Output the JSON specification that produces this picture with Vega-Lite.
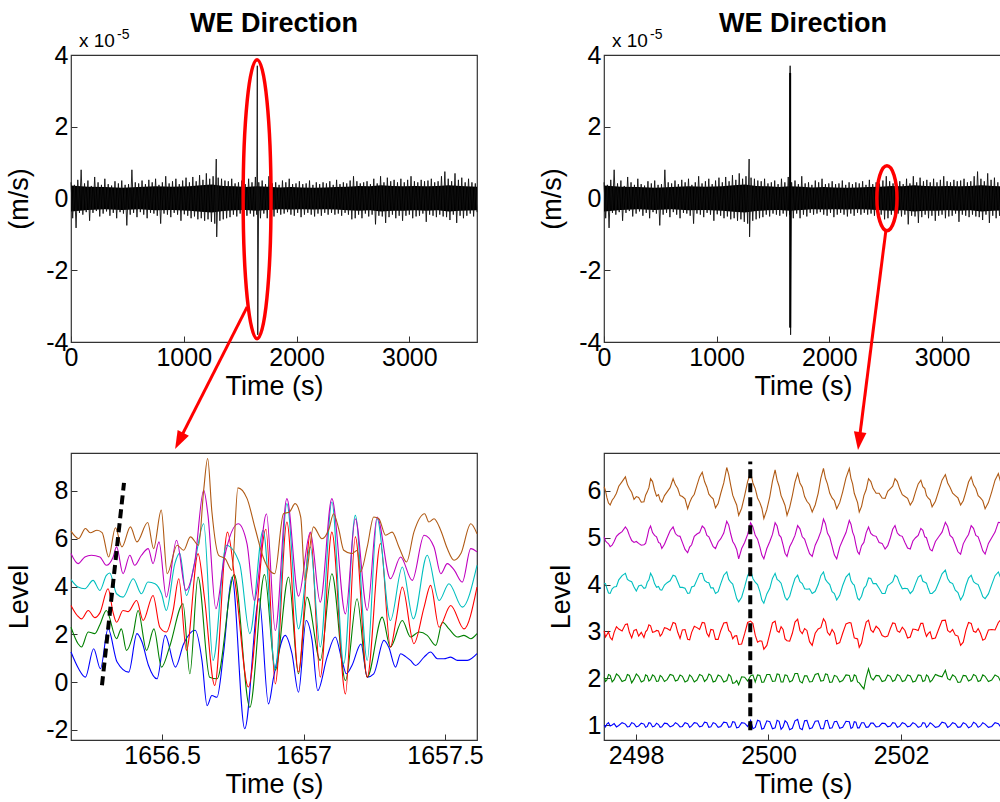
{
"$schema": "https://vega.github.io/schema/vega-lite/v6.json",
"background": "white",
"padding": {"left": 5, "top": 9, "right": 0, "bottom": 2},
"config": {
  "view": {"stroke": "#333", "strokeWidth": 1.2},
  "axis": {"domain": false, "grid": false, "tickSize": -6, "tickColor": "#333", "tickWidth": 1, "labelPadding": 9, "labelFlush": false, "labelFont": "Liberation Sans", "labelFontSize": 25, "labelColor": "#000", "titleFont": "Liberation Sans", "titleFontSize": 27, "titleFontWeight": "normal", "titleColor": "#000"},
  "axisX": {"titlePadding": 3},
  "axisY": {"titlePadding": 12},
  "title": {"font": "Liberation Sans", "fontSize": 27, "fontWeight": "bold", "color": "#000", "anchor": "middle", "offset": -10}
},
"datasets": {
  "core": [{"t":0,"v":-0.36,"v2":0.36},{"t":150,"v":-0.32,"v2":0.33},{"t":300,"v":-0.30,"v2":0.32},{"t":450,"v":-0.32,"v2":0.30},{"t":600,"v":-0.30,"v2":0.32},{"t":750,"v":-0.33,"v2":0.34},{"t":900,"v":-0.32,"v2":0.33},{"t":1050,"v":-0.34,"v2":0.34},{"t":1150,"v":-0.37,"v2":0.37},{"t":1250,"v":-0.39,"v2":0.39},{"t":1350,"v":-0.35,"v2":0.35},{"t":1450,"v":-0.33,"v2":0.34},{"t":1550,"v":-0.32,"v2":0.32},{"t":1650,"v":-0.34,"v2":0.34},{"t":1750,"v":-0.32,"v2":0.33},{"t":1850,"v":-0.30,"v2":0.31},{"t":1950,"v":-0.31,"v2":0.32},{"t":2050,"v":-0.30,"v2":0.31},{"t":2150,"v":-0.31,"v2":0.30},{"t":2250,"v":-0.30,"v2":0.31},{"t":2350,"v":-0.31,"v2":0.32},{"t":2450,"v":-0.33,"v2":0.33},{"t":2550,"v":-0.34,"v2":0.35},{"t":2650,"v":-0.33,"v2":0.34},{"t":2750,"v":-0.36,"v2":0.37},{"t":2850,"v":-0.34,"v2":0.35},{"t":2950,"v":-0.34,"v2":0.34},{"t":3050,"v":-0.33,"v2":0.35},{"t":3150,"v":-0.34,"v2":0.34},{"t":3250,"v":-0.33,"v2":0.35},{"t":3350,"v":-0.36,"v2":0.37},{"t":3450,"v":-0.34,"v2":0.35},{"t":3600,"v":-0.33,"v2":0.33}],
  "we": [{"t":0,"v":0.45},{"t":15,"v":-0.55},{"t":30,"v":0.38},{"t":45,"v":-0.82},{"t":60,"v":0.52},{"t":75,"v":-0.40},{"t":90,"v":0.80},{"t":105,"v":-0.45},{"t":120,"v":0.42},{"t":135,"v":-0.38},{"t":150,"v":0.50},{"t":165,"v":-0.62},{"t":180,"v":0.35},{"t":195,"v":-0.40},{"t":210,"v":0.60},{"t":225,"v":-0.35},{"t":240,"v":0.45},{"t":255,"v":-0.50},{"t":270,"v":0.38},{"t":285,"v":-0.42},{"t":300,"v":0.55},{"t":315,"v":-0.36},{"t":330,"v":0.40},{"t":345,"v":-0.48},{"t":360,"v":0.36},{"t":375,"v":-0.40},{"t":390,"v":0.48},{"t":405,"v":-0.55},{"t":420,"v":0.42},{"t":435,"v":-0.38},{"t":450,"v":0.50},{"t":465,"v":-0.42},{"t":480,"v":0.38},{"t":495,"v":-0.75},{"t":510,"v":0.40},{"t":525,"v":-0.45},{"t":540,"v":0.80},{"t":555,"v":-0.40},{"t":570,"v":0.45},{"t":585,"v":-0.52},{"t":600,"v":0.42},{"t":615,"v":-0.38},{"t":630,"v":0.50},{"t":645,"v":-0.45},{"t":660,"v":0.40},{"t":675,"v":-0.55},{"t":690,"v":0.52},{"t":705,"v":-0.40},{"t":720,"v":0.45},{"t":735,"v":-0.42},{"t":750,"v":0.55},{"t":765,"v":-0.48},{"t":780,"v":0.38},{"t":795,"v":-0.70},{"t":810,"v":0.45},{"t":825,"v":-0.42},{"t":840,"v":0.62},{"t":855,"v":-0.45},{"t":870,"v":0.42},{"t":885,"v":-0.52},{"t":900,"v":0.48},{"t":915,"v":-0.40},{"t":930,"v":0.55},{"t":945,"v":-0.45},{"t":960,"v":0.40},{"t":975,"v":-0.62},{"t":990,"v":0.50},{"t":1005,"v":-0.44},{"t":1020,"v":0.58},{"t":1035,"v":-0.48},{"t":1050,"v":0.45},{"t":1065,"v":-0.55},{"t":1080,"v":0.60},{"t":1095,"v":-0.50},{"t":1110,"v":0.48},{"t":1125,"v":-0.58},{"t":1140,"v":0.65},{"t":1155,"v":-0.55},{"t":1170,"v":0.52},{"t":1185,"v":-0.62},{"t":1200,"v":0.70},{"t":1215,"v":-0.58},{"t":1230,"v":0.55},{"t":1245,"v":-0.65},{"t":1260,"v":0.62},{"t":1275,"v":-0.70},{"t":1288,"v":1.10},{"t":1292,"v":-1.07},{"t":1305,"v":0.58},{"t":1320,"v":-0.62},{"t":1335,"v":0.55},{"t":1350,"v":-0.58},{"t":1365,"v":0.50},{"t":1380,"v":-0.55},{"t":1395,"v":0.48},{"t":1410,"v":-0.52},{"t":1425,"v":0.55},{"t":1440,"v":-0.45},{"t":1455,"v":0.42},{"t":1470,"v":-0.50},{"t":1485,"v":0.45},{"t":1500,"v":-0.42},{"t":1515,"v":0.50},{"t":1530,"v":-0.45},{"t":1545,"v":0.40},{"t":1560,"v":-0.48},{"t":1575,"v":0.55},{"t":1590,"v":-0.42},{"t":1605,"v":0.45},{"t":1620,"v":-0.50},{"t":1635,"v":0.60},{"t":1647,"v":-0.45},{"t":1652,"v":3.70},{"t":1656,"v":-3.80},{"t":1665,"v":0.45},{"t":1680,"v":-0.55},{"t":1695,"v":0.50},{"t":1710,"v":-0.42},{"t":1725,"v":0.40},{"t":1740,"v":-0.55},{"t":1755,"v":0.62},{"t":1770,"v":-0.45},{"t":1785,"v":0.42},{"t":1800,"v":-0.50},{"t":1815,"v":0.45},{"t":1830,"v":-0.40},{"t":1845,"v":0.38},{"t":1860,"v":-0.45},{"t":1875,"v":0.50},{"t":1890,"v":-0.42},{"t":1905,"v":0.45},{"t":1920,"v":-0.38},{"t":1935,"v":0.55},{"t":1950,"v":-0.45},{"t":1965,"v":0.40},{"t":1980,"v":-0.48},{"t":1995,"v":0.42},{"t":2010,"v":-0.40},{"t":2025,"v":0.48},{"t":2040,"v":-0.52},{"t":2055,"v":0.40},{"t":2070,"v":-0.45},{"t":2085,"v":0.42},{"t":2100,"v":-0.40},{"t":2115,"v":0.50},{"t":2130,"v":-0.45},{"t":2145,"v":0.38},{"t":2160,"v":-0.50},{"t":2175,"v":0.45},{"t":2190,"v":-0.42},{"t":2205,"v":0.40},{"t":2220,"v":-0.48},{"t":2235,"v":0.45},{"t":2250,"v":-0.40},{"t":2265,"v":0.42},{"t":2280,"v":-0.45},{"t":2295,"v":0.48},{"t":2310,"v":-0.40},{"t":2325,"v":0.38},{"t":2340,"v":-0.45},{"t":2355,"v":0.52},{"t":2370,"v":-0.42},{"t":2385,"v":0.40},{"t":2400,"v":-0.48},{"t":2415,"v":0.45},{"t":2430,"v":-0.40},{"t":2445,"v":0.42},{"t":2460,"v":-0.45},{"t":2475,"v":0.50},{"t":2490,"v":-0.58},{"t":2505,"v":0.62},{"t":2520,"v":-0.55},{"t":2535,"v":0.48},{"t":2550,"v":-0.45},{"t":2565,"v":0.42},{"t":2580,"v":-0.55},{"t":2595,"v":0.45},{"t":2610,"v":-0.42},{"t":2625,"v":0.48},{"t":2640,"v":-0.50},{"t":2655,"v":0.40},{"t":2670,"v":-0.45},{"t":2685,"v":0.55},{"t":2700,"v":-0.72},{"t":2715,"v":0.42},{"t":2730,"v":-0.48},{"t":2745,"v":0.62},{"t":2760,"v":-0.50},{"t":2775,"v":0.45},{"t":2790,"v":-0.68},{"t":2805,"v":0.58},{"t":2820,"v":-0.52},{"t":2835,"v":0.48},{"t":2850,"v":-0.45},{"t":2865,"v":0.52},{"t":2880,"v":-0.55},{"t":2895,"v":0.45},{"t":2910,"v":-0.48},{"t":2925,"v":0.55},{"t":2940,"v":-0.62},{"t":2955,"v":0.45},{"t":2970,"v":-0.48},{"t":2985,"v":0.52},{"t":3000,"v":-0.45},{"t":3015,"v":0.62},{"t":3030,"v":-0.55},{"t":3045,"v":0.48},{"t":3060,"v":-0.50},{"t":3075,"v":0.45},{"t":3090,"v":-0.48},{"t":3105,"v":0.52},{"t":3120,"v":-0.42},{"t":3135,"v":0.48},{"t":3150,"v":-0.65},{"t":3165,"v":0.50},{"t":3180,"v":-0.45},{"t":3195,"v":0.55},{"t":3210,"v":-0.48},{"t":3225,"v":0.45},{"t":3240,"v":-0.52},{"t":3255,"v":0.48},{"t":3270,"v":-0.45},{"t":3285,"v":0.62},{"t":3300,"v":-0.50},{"t":3315,"v":0.75},{"t":3330,"v":-0.52},{"t":3345,"v":0.55},{"t":3360,"v":-0.60},{"t":3375,"v":0.48},{"t":3390,"v":-0.45},{"t":3405,"v":0.70},{"t":3420,"v":-0.68},{"t":3435,"v":0.52},{"t":3450,"v":-0.48},{"t":3465,"v":0.58},{"t":3480,"v":-0.55},{"t":3495,"v":0.45},{"t":3510,"v":-0.48},{"t":3525,"v":0.55},{"t":3540,"v":-0.42},{"t":3555,"v":0.45},{"t":3570,"v":-0.50},{"t":3585,"v":0.42},{"t":3600,"v":-0.38}],
  "z1": [
{"s":"b","t":1656.178,"v":1.26},{"s":"b","t":1656.205,"v":0.56},{"s":"b","t":1656.229,"v":0.21},{"s":"b","t":1656.258,"v":1.40},{"s":"b","t":1656.282,"v":0.56},{"s":"b","t":1656.309,"v":2.24},{"s":"b","t":1656.341,"v":0.84},{"s":"b","t":1656.382,"v":0.42},{"s":"b","t":1656.411,"v":2.03},{"s":"b","t":1656.429,"v":1.68},{"s":"b","t":1656.452,"v":0.70},{"s":"b","t":1656.482,"v":0.14},{"s":"b","t":1656.511,"v":1.96},{"s":"b","t":1656.547,"v":0.63},{"s":"b","t":1656.576,"v":1.60},{"s":"b","t":1656.617,"v":2.17},{"s":"b","t":1656.641,"v":0.90},{"s":"b","t":1656.659,"v":-0.98},{"s":"b","t":1656.676,"v":-0.56},{"s":"b","t":1656.694,"v":-0.63},{"s":"b","t":1656.717,"v":1.20},{"s":"b","t":1656.747,"v":4.40},{"s":"b","t":1656.792,"v":-1.95},{"s":"b","t":1656.843,"v":3.50},{"s":"b","t":1656.876,"v":-0.91},{"s":"b","t":1656.894,"v":0.20},{"s":"b","t":1656.935,"v":1.96},{"s":"b","t":1656.959,"v":1.19},{"s":"b","t":1656.982,"v":-0.42},{"s":"b","t":1657.009,"v":2.58},{"s":"b","t":1657.030,"v":1.75},{"s":"b","t":1657.050,"v":-0.35},{"s":"b","t":1657.083,"v":1.05},{"s":"b","t":1657.112,"v":1.89},{"s":"b","t":1657.136,"v":0.91},{"s":"b","t":1657.151,"v":0.35},{"s":"b","t":1657.171,"v":0.70},{"s":"b","t":1657.203,"v":1.60},{"s":"b","t":1657.225,"v":0.21},{"s":"b","t":1657.248,"v":0.35},{"s":"b","t":1657.284,"v":1.75},{"s":"b","t":1657.301,"v":1.47},{"s":"b","t":1657.325,"v":0.63},{"s":"b","t":1657.343,"v":1.19},{"s":"b","t":1657.361,"v":1.07},{"s":"b","t":1657.378,"v":0.91},{"s":"b","t":1657.396,"v":0.70},{"s":"b","t":1657.426,"v":1.05},{"s":"b","t":1657.449,"v":1.26},{"s":"b","t":1657.473,"v":0.98},{"s":"b","t":1657.496,"v":0.98},{"s":"b","t":1657.520,"v":1.05},{"s":"b","t":1657.544,"v":0.91},{"s":"b","t":1657.579,"v":0.91},{"s":"b","t":1657.613,"v":1.19},
{"s":"g","t":1656.178,"v":2.30},{"s":"g","t":1656.203,"v":1.61},{"s":"g","t":1656.215,"v":1.47},{"s":"g","t":1656.239,"v":2.10},{"s":"g","t":1656.262,"v":2.03},{"s":"g","t":1656.280,"v":2.40},{"s":"g","t":1656.303,"v":3.00},{"s":"g","t":1656.339,"v":1.82},{"s":"g","t":1656.356,"v":2.23},{"s":"g","t":1656.374,"v":1.33},{"s":"g","t":1656.398,"v":2.03},{"s":"g","t":1656.415,"v":3.00},{"s":"g","t":1656.445,"v":1.33},{"s":"g","t":1656.471,"v":2.23},{"s":"g","t":1656.498,"v":0.63},{"s":"g","t":1656.527,"v":1.50},{"s":"g","t":1656.574,"v":3.28},{"s":"g","t":1656.598,"v":0.35},{"s":"g","t":1656.627,"v":4.40},{"s":"g","t":1656.668,"v":0.21},{"s":"g","t":1656.694,"v":0.14},{"s":"g","t":1656.755,"v":4.50},{"s":"g","t":1656.810,"v":-1.05},{"s":"g","t":1656.862,"v":4.50},{"s":"g","t":1656.900,"v":0.50},{"s":"g","t":1656.947,"v":4.40},{"s":"g","t":1656.982,"v":0.35},{"s":"g","t":1657.012,"v":3.56},{"s":"g","t":1657.059,"v":0.91},{"s":"g","t":1657.100,"v":4.54},{"s":"g","t":1657.148,"v":0.07},{"s":"g","t":1657.189,"v":3.49},{"s":"g","t":1657.225,"v":0.21},{"s":"g","t":1657.278,"v":2.72},{"s":"g","t":1657.307,"v":1.47},{"s":"g","t":1657.349,"v":2.58},{"s":"g","t":1657.378,"v":1.89},{"s":"g","t":1657.408,"v":2.10},{"s":"g","t":1657.437,"v":1.96},{"s":"g","t":1657.467,"v":1.54},{"s":"g","t":1657.491,"v":2.51},{"s":"g","t":1657.514,"v":2.23},{"s":"g","t":1657.544,"v":1.89},{"s":"g","t":1657.567,"v":1.96},{"s":"g","t":1657.591,"v":1.82},{"s":"g","t":1657.613,"v":2.03},
{"s":"r","t":1656.178,"v":3.21},{"s":"r","t":1656.200,"v":2.79},{"s":"r","t":1656.215,"v":2.65},{"s":"r","t":1656.239,"v":3.00},{"s":"r","t":1656.262,"v":2.70},{"s":"r","t":1656.280,"v":2.90},{"s":"r","t":1656.309,"v":3.91},{"s":"r","t":1656.327,"v":2.90},{"s":"r","t":1656.339,"v":2.51},{"s":"r","t":1656.362,"v":3.00},{"s":"r","t":1656.380,"v":2.95},{"s":"r","t":1656.410,"v":3.42},{"s":"r","t":1656.433,"v":2.58},{"s":"r","t":1656.468,"v":3.63},{"s":"r","t":1656.492,"v":2.30},{"s":"r","t":1656.515,"v":2.10},{"s":"r","t":1656.539,"v":3.00},{"s":"r","t":1656.559,"v":4.33},{"s":"r","t":1656.586,"v":1.33},{"s":"r","t":1656.627,"v":5.38},{"s":"r","t":1656.650,"v":3.50},{"s":"r","t":1656.686,"v":-0.14},{"s":"r","t":1656.731,"v":6.28},{"s":"r","t":1656.760,"v":4.00},{"s":"r","t":1656.805,"v":-0.20},{"s":"r","t":1656.867,"v":6.40},{"s":"r","t":1656.900,"v":-0.07},{"s":"r","t":1656.941,"v":6.70},{"s":"r","t":1656.982,"v":0.42},{"s":"r","t":1657.024,"v":6.22},{"s":"r","t":1657.059,"v":0.21},{"s":"r","t":1657.100,"v":6.28},{"s":"r","t":1657.148,"v":-0.49},{"s":"r","t":1657.183,"v":6.08},{"s":"r","t":1657.225,"v":0.21},{"s":"r","t":1657.272,"v":5.80},{"s":"r","t":1657.307,"v":1.47},{"s":"r","t":1657.327,"v":2.60},{"s":"r","t":1657.349,"v":3.98},{"s":"r","t":1657.390,"v":1.61},{"s":"r","t":1657.426,"v":3.14},{"s":"r","t":1657.449,"v":4.05},{"s":"r","t":1657.479,"v":2.30},{"s":"r","t":1657.520,"v":3.21},{"s":"r","t":1657.567,"v":2.23},{"s":"r","t":1657.613,"v":3.98},
{"s":"c","t":1656.178,"v":4.29},{"s":"c","t":1656.203,"v":3.98},{"s":"c","t":1656.227,"v":3.91},{"s":"c","t":1656.256,"v":4.26},{"s":"c","t":1656.280,"v":3.84},{"s":"c","t":1656.303,"v":4.47},{"s":"c","t":1656.315,"v":4.57},{"s":"c","t":1656.339,"v":3.70},{"s":"c","t":1656.362,"v":3.56},{"s":"c","t":1656.398,"v":4.33},{"s":"c","t":1656.427,"v":3.70},{"s":"c","t":1656.450,"v":4.19},{"s":"c","t":1656.475,"v":4.12},{"s":"c","t":1656.498,"v":3.70},{"s":"c","t":1656.515,"v":3.00},{"s":"c","t":1656.545,"v":4.96},{"s":"c","t":1656.562,"v":5.40},{"s":"c","t":1656.586,"v":3.63},{"s":"c","t":1656.615,"v":5.00},{"s":"c","t":1656.647,"v":6.63},{"s":"c","t":1656.680,"v":0.91},{"s":"c","t":1656.727,"v":5.73},{"s":"c","t":1656.774,"v":4.96},{"s":"c","t":1656.810,"v":2.03},{"s":"c","t":1656.857,"v":6.35},{"s":"c","t":1656.900,"v":0.56},{"s":"c","t":1656.941,"v":7.47},{"s":"c","t":1656.982,"v":2.23},{"s":"c","t":1657.024,"v":5.66},{"s":"c","t":1657.059,"v":1.47},{"s":"c","t":1657.100,"v":7.54},{"s":"c","t":1657.142,"v":0.77},{"s":"c","t":1657.183,"v":6.98},{"s":"c","t":1657.225,"v":0.91},{"s":"c","t":1657.260,"v":6.84},{"s":"c","t":1657.307,"v":2.58},{"s":"c","t":1657.349,"v":4.82},{"s":"c","t":1657.388,"v":2.65},{"s":"c","t":1657.437,"v":5.31},{"s":"c","t":1657.479,"v":3.42},{"s":"c","t":1657.514,"v":4.12},{"s":"c","t":1657.561,"v":3.14},{"s":"c","t":1657.613,"v":4.89},
{"s":"m","t":1656.178,"v":5.38},{"s":"m","t":1656.203,"v":4.96},{"s":"m","t":1656.227,"v":5.24},{"s":"m","t":1656.250,"v":5.31},{"s":"m","t":1656.280,"v":5.24},{"s":"m","t":1656.303,"v":4.89},{"s":"m","t":1656.327,"v":5.24},{"s":"m","t":1656.339,"v":5.66},{"s":"m","t":1656.362,"v":4.54},{"s":"m","t":1656.386,"v":5.31},{"s":"m","t":1656.403,"v":4.89},{"s":"m","t":1656.427,"v":5.31},{"s":"m","t":1656.451,"v":5.59},{"s":"m","t":1656.468,"v":4.96},{"s":"m","t":1656.489,"v":5.87},{"s":"m","t":1656.515,"v":3.56},{"s":"m","t":1656.551,"v":5.94},{"s":"m","t":1656.584,"v":3.84},{"s":"m","t":1656.615,"v":5.00},{"s":"m","t":1656.647,"v":8.03},{"s":"m","t":1656.662,"v":7.00},{"s":"m","t":1656.690,"v":3.07},{"s":"m","t":1656.720,"v":5.20},{"s":"m","t":1656.769,"v":6.63},{"s":"m","t":1656.800,"v":5.80},{"s":"m","t":1656.826,"v":3.42},{"s":"m","t":1656.869,"v":7.05},{"s":"m","t":1656.900,"v":2.16},{"s":"m","t":1656.941,"v":7.68},{"s":"m","t":1656.982,"v":3.60},{"s":"m","t":1657.024,"v":6.28},{"s":"m","t":1657.059,"v":3.35},{"s":"m","t":1657.100,"v":7.68},{"s":"m","t":1657.148,"v":2.86},{"s":"m","t":1657.183,"v":6.84},{"s":"m","t":1657.225,"v":3.00},{"s":"m","t":1657.260,"v":6.91},{"s":"m","t":1657.307,"v":4.33},{"s":"m","t":1657.343,"v":5.24},{"s":"m","t":1657.384,"v":4.26},{"s":"m","t":1657.426,"v":6.15},{"s":"m","t":1657.461,"v":5.66},{"s":"m","t":1657.485,"v":4.54},{"s":"m","t":1657.508,"v":4.96},{"s":"m","t":1657.532,"v":4.70},{"s":"m","t":1657.561,"v":4.19},{"s":"m","t":1657.591,"v":5.59},{"s":"m","t":1657.613,"v":5.45},
{"s":"o","t":1656.178,"v":6.32},{"s":"o","t":1656.205,"v":6.01},{"s":"o","t":1656.229,"v":6.43},{"s":"o","t":1656.246,"v":6.25},{"s":"o","t":1656.270,"v":6.36},{"s":"o","t":1656.288,"v":6.26},{"s":"o","t":1656.311,"v":5.24},{"s":"o","t":1656.335,"v":6.46},{"s":"o","t":1656.358,"v":5.66},{"s":"o","t":1656.388,"v":6.50},{"s":"o","t":1656.411,"v":5.87},{"s":"o","t":1656.449,"v":6.68},{"s":"o","t":1656.470,"v":5.59},{"s":"o","t":1656.497,"v":7.20},{"s":"o","t":1656.518,"v":4.54},{"s":"o","t":1656.553,"v":5.73},{"s":"o","t":1656.576,"v":5.52},{"s":"o","t":1656.600,"v":6.08},{"s":"o","t":1656.629,"v":5.73},{"s":"o","t":1656.647,"v":8.04},{"s":"o","t":1656.661,"v":9.36},{"s":"o","t":1656.676,"v":7.13},{"s":"o","t":1656.700,"v":5.31},{"s":"o","t":1656.723,"v":5.17},{"s":"o","t":1656.747,"v":4.68},{"s":"o","t":1656.768,"v":8.13},{"s":"o","t":1656.800,"v":7.69},{"s":"o","t":1656.829,"v":6.43},{"s":"o","t":1656.857,"v":5.24},{"s":"o","t":1656.898,"v":4.54},{"s":"o","t":1656.929,"v":7.05},{"s":"o","t":1656.950,"v":7.12},{"s":"o","t":1656.970,"v":7.47},{"s":"o","t":1656.990,"v":6.91},{"s":"o","t":1657.005,"v":4.26},{"s":"o","t":1657.035,"v":6.50},{"s":"o","t":1657.065,"v":6.00},{"s":"o","t":1657.090,"v":6.42},{"s":"o","t":1657.106,"v":7.05},{"s":"o","t":1657.124,"v":6.42},{"s":"o","t":1657.142,"v":5.52},{"s":"o","t":1657.171,"v":5.38},{"s":"o","t":1657.190,"v":5.52},{"s":"o","t":1657.201,"v":4.61},{"s":"o","t":1657.225,"v":5.66},{"s":"o","t":1657.248,"v":6.91},{"s":"o","t":1657.266,"v":6.84},{"s":"o","t":1657.290,"v":6.15},{"s":"o","t":1657.313,"v":6.28},{"s":"o","t":1657.337,"v":5.66},{"s":"o","t":1657.364,"v":5.03},{"s":"o","t":1657.390,"v":6.28},{"s":"o","t":1657.428,"v":7.05},{"s":"o","t":1657.443,"v":6.70},{"s":"o","t":1657.461,"v":6.84},{"s":"o","t":1657.485,"v":6.35},{"s":"o","t":1657.508,"v":5.59},{"s":"o","t":1657.532,"v":5.10},{"s":"o","t":1657.556,"v":5.38},{"s":"o","t":1657.591,"v":6.63},{"s":"o","t":1657.613,"v":6.21}
  ],
  "z2": [
{"t":2497.52,"o":6.09,"m":5.02,"c":4.03,"r":3.01,"g":2.02,"b":1.00},
{"t":2497.54,"o":6.00,"m":4.93,"c":4.02,"r":2.88,"g":1.93,"b":0.96},
{"t":2497.56,"o":5.86,"m":4.90,"c":3.92,"r":2.93,"g":1.96,"b":1.02},
{"t":2497.585,"o":5.74,"m":4.87,"c":3.82,"r":2.99,"g":2.08,"b":1.05},
{"t":2497.61,"o":5.70,"m":4.81,"c":3.81,"r":2.87,"g":2.06,"b":0.98},
{"t":2497.64,"o":5.80,"m":4.84,"c":3.91,"r":2.82,"g":1.92,"b":1.00},
{"t":2497.67,"o":5.86,"m":4.92,"c":3.95,"r":2.98,"g":1.97,"b":1.03},
{"t":2497.705,"o":5.95,"m":5.03,"c":3.96,"r":3.10,"g":2.09,"b":0.96},
{"t":2497.74,"o":6.10,"m":5.08,"c":4.10,"r":3.05,"g":2.05,"b":0.99},
{"t":2497.79,"o":6.20,"m":5.13,"c":4.19,"r":3.01,"g":1.93,"b":1.05},
{"t":2497.84,"o":6.30,"m":5.23,"c":4.24,"r":3.15,"g":1.96,"b":1.02},
{"t":2497.87,"o":6.14,"m":5.17,"c":4.11,"r":3.16,"g":2.08,"b":0.96},
{"t":2497.90,"o":6.05,"m":5.05,"c":4.08,"r":2.98,"g":2.06,"b":0.97},
{"t":2497.935,"o":5.97,"m":4.94,"c":4.06,"r":2.86,"g":1.90,"b":1.05},
{"t":2497.97,"o":5.82,"m":4.90,"c":3.95,"r":3.02,"g":1.98,"b":1.03},
{"t":2498.005,"o":5.88,"m":4.92,"c":3.86,"r":3.04,"g":2.09,"b":0.96},
{"t":2498.04,"o":5.86,"m":4.88,"c":3.97,"r":2.90,"g":2.04,"b":0.98},
{"t":2498.08,"o":5.76,"m":4.84,"c":3.99,"r":2.98,"g":1.92,"b":1.04},
{"t":2498.12,"o":5.77,"m":4.85,"c":3.92,"r":2.87,"g":1.95,"b":1.02},
{"t":2498.145,"o":5.91,"m":4.88,"c":3.93,"r":2.99,"g":2.07,"b":0.95},
{"t":2498.17,"o":5.98,"m":5.02,"c":4.05,"r":3.03,"g":2.05,"b":0.97},
{"t":2498.195,"o":6.07,"m":5.18,"c":4.10,"r":3.14,"g":1.94,"b":1.05},
{"t":2498.22,"o":6.26,"m":5.25,"c":4.24,"r":3.12,"g":1.97,"b":1.04},
{"t":2498.25,"o":6.20,"m":5.11,"c":4.16,"r":2.98,"g":2.07,"b":0.96},
{"t":2498.28,"o":6.02,"m":5.05,"c":4.02,"r":2.99,"g":2.04,"b":0.98},
{"t":2498.31,"o":5.89,"m":5.02,"c":3.94,"r":3.02,"g":1.93,"b":1.04},
{"t":2498.34,"o":5.92,"m":4.90,"c":3.96,"r":3.01,"g":1.94,"b":1.01},
{"t":2498.365,"o":5.80,"m":4.88,"c":3.89,"r":2.90,"g":2.06,"b":0.95},
{"t":2498.39,"o":5.76,"m":4.77,"c":3.88,"r":2.94,"g":2.03,"b":0.96},
{"t":2498.43,"o":5.90,"m":4.86,"c":3.99,"r":3.08,"g":1.93,"b":1.04},
{"t":2498.47,"o":5.98,"m":5.00,"c":4.04,"r":3.06,"g":1.97,"b":1.03},
{"t":2498.515,"o":6.07,"m":5.15,"c":4.08,"r":3.02,"g":2.08,"b":0.96},
{"t":2498.56,"o":6.26,"m":5.23,"c":4.20,"r":3.19,"g":2.06,"b":0.99},
{"t":2498.595,"o":6.13,"m":5.09,"c":4.18,"r":3.17,"g":1.94,"b":1.05},
{"t":2498.63,"o":6.05,"m":5.04,"c":4.06,"r":2.98,"g":1.96,"b":1.02},
{"t":2498.665,"o":5.90,"m":5.03,"c":3.94,"r":2.85,"g":2.07,"b":0.96},
{"t":2498.70,"o":5.88,"m":4.90,"c":3.94,"r":3.03,"g":2.04,"b":0.97},
{"t":2498.74,"o":5.83,"m":4.75,"c":3.92,"r":3.04,"g":1.92,"b":1.05},
{"t":2498.78,"o":5.62,"m":4.68,"c":3.81,"r":2.83,"g":1.95,"b":1.03},
{"t":2498.81,"o":5.75,"m":4.80,"c":3.82,"r":2.82,"g":2.07,"b":0.95},
{"t":2498.84,"o":5.85,"m":4.85,"c":3.95,"r":2.98,"g":2.03,"b":0.98},
{"t":2498.88,"o":5.93,"m":5.03,"c":3.97,"r":3.11,"g":1.92,"b":1.05},
{"t":2498.92,"o":6.12,"m":5.08,"c":4.10,"r":3.08,"g":1.96,"b":1.04},
{"t":2498.96,"o":6.30,"m":5.11,"c":4.23,"r":3.04,"g":2.08,"b":0.96},
{"t":2499.00,"o":6.40,"m":5.25,"c":4.24,"r":3.19,"g":2.05,"b":0.98},
{"t":2499.035,"o":6.20,"m":5.20,"c":4.09,"r":3.18,"g":1.93,"b":1.06},
{"t":2499.07,"o":6.08,"m":5.05,"c":4.05,"r":2.96,"g":1.98,"b":1.05},
{"t":2499.10,"o":5.93,"m":5.02,"c":4.04,"r":2.89,"g":2.09,"b":0.95},
{"t":2499.13,"o":5.88,"m":4.92,"c":3.93,"r":3.04,"g":2.06,"b":0.96},
{"t":2499.165,"o":5.83,"m":4.81,"c":3.93,"r":3.03,"g":1.92,"b":1.05},
{"t":2499.20,"o":5.64,"m":4.77,"c":3.81,"r":2.83,"g":1.94,"b":1.03},
{"t":2499.24,"o":5.73,"m":4.91,"c":3.85,"r":2.83,"g":2.07,"b":0.95},
{"t":2499.28,"o":5.95,"m":4.98,"c":4.02,"r":3.02,"g":2.04,"b":0.97},
{"t":2499.325,"o":6.17,"m":5.10,"c":4.20,"r":3.18,"g":1.92,"b":1.06},
{"t":2499.37,"o":6.50,"m":5.35,"c":4.27,"r":3.19,"g":1.95,"b":1.05},
{"t":2499.40,"o":6.35,"m":5.27,"c":4.11,"r":3.02,"g":2.08,"b":0.95},
{"t":2499.43,"o":6.12,"m":5.08,"c":4.05,"r":2.98,"g":2.04,"b":0.96},
{"t":2499.46,"o":5.91,"m":4.92,"c":4.01,"r":2.84,"g":1.89,"b":1.07},
{"t":2499.49,"o":5.80,"m":4.85,"c":3.86,"r":2.90,"g":1.90,"b":1.06},
{"t":2499.52,"o":5.70,"m":4.75,"c":3.70,"r":2.91,"g":1.95,"b":0.94},
{"t":2499.55,"o":5.48,"m":4.55,"c":3.63,"r":2.72,"g":1.86,"b":0.95},
{"t":2499.595,"o":5.63,"m":4.77,"c":3.73,"r":2.73,"g":2.03,"b":1.05},
{"t":2499.64,"o":5.90,"m":4.90,"c":3.95,"r":2.95,"g":2.02,"b":1.04},
{"t":2499.685,"o":6.20,"m":5.07,"c":4.19,"r":3.19,"g":1.94,"b":0.97},
{"t":2499.73,"o":6.40,"m":5.32,"c":4.31,"r":3.22,"g":2.05,"b":1.10},
{"t":2499.765,"o":6.17,"m":5.23,"c":4.13,"r":3.17,"g":2.07,"b":0.92},
{"t":2499.80,"o":6.05,"m":5.05,"c":4.05,"r":2.92,"g":1.92,"b":0.95},
{"t":2499.835,"o":5.85,"m":4.97,"c":4.00,"r":2.77,"g":2.07,"b":1.10},
{"t":2499.87,"o":5.75,"m":4.80,"c":3.85,"r":2.80,"g":2.06,"b":1.08},
{"t":2499.90,"o":5.63,"m":4.63,"c":3.67,"r":2.79,"g":1.91,"b":0.91},
{"t":2499.93,"o":5.41,"m":4.55,"c":3.60,"r":2.62,"g":1.92,"b":0.93},
{"t":2499.975,"o":5.60,"m":4.77,"c":3.80,"r":2.70,"g":2.08,"b":1.09},
{"t":2500.02,"o":5.88,"m":4.92,"c":3.92,"r":2.95,"g":2.08,"b":1.07},
{"t":2500.06,"o":6.21,"m":5.07,"c":4.13,"r":3.18,"g":1.93,"b":0.92},
{"t":2500.10,"o":6.45,"m":5.32,"c":4.24,"r":3.22,"g":1.94,"b":0.94},
{"t":2500.13,"o":6.23,"m":5.25,"c":4.11,"r":3.01,"g":2.09,"b":1.10},
{"t":2500.16,"o":6.10,"m":5.06,"c":4.08,"r":2.98,"g":2.08,"b":1.08},
{"t":2500.19,"o":5.90,"m":5.01,"c":4.03,"r":3.10,"g":1.92,"b":0.91},
{"t":2500.22,"o":5.80,"m":4.85,"c":3.88,"r":3.04,"g":1.92,"b":0.96},
{"t":2500.25,"o":5.69,"m":4.67,"c":3.73,"r":2.84,"g":2.07,"b":1.09},
{"t":2500.28,"o":5.48,"m":4.60,"c":3.67,"r":2.80,"g":2.06,"b":1.05},
{"t":2500.32,"o":5.65,"m":4.81,"c":3.75,"r":2.79,"g":1.92,"b":0.90},
{"t":2500.36,"o":5.90,"m":4.92,"c":3.95,"r":2.96,"g":1.95,"b":0.93},
{"t":2500.40,"o":6.19,"m":5.05,"c":4.13,"r":3.20,"g":2.10,"b":1.09},
{"t":2500.44,"o":6.37,"m":5.26,"c":4.20,"r":3.26,"g":2.10,"b":1.12},
{"t":2500.475,"o":6.17,"m":5.19,"c":4.06,"r":3.02,"g":1.93,"b":0.93},
{"t":2500.51,"o":6.08,"m":5.02,"c":4.02,"r":2.95,"g":1.90,"b":0.90},
{"t":2500.545,"o":5.88,"m":4.97,"c":3.91,"r":3.06,"g":2.05,"b":1.09},
{"t":2500.58,"o":5.78,"m":4.82,"c":3.90,"r":3.02,"g":2.05,"b":1.10},
{"t":2500.62,"o":5.71,"m":4.66,"c":3.91,"r":2.78,"g":1.92,"b":0.92},
{"t":2500.66,"o":5.55,"m":4.60,"c":3.81,"r":2.70,"g":1.93,"b":0.94},
{"t":2500.705,"o":5.70,"m":4.84,"c":3.85,"r":2.96,"g":2.08,"b":1.08},
{"t":2500.75,"o":5.95,"m":4.98,"c":4.00,"r":3.05,"g":2.10,"b":1.09},
{"t":2500.79,"o":6.27,"m":5.13,"c":4.19,"r":3.08,"g":1.94,"b":0.92},
{"t":2500.83,"o":6.48,"m":5.40,"c":4.27,"r":3.27,"g":1.95,"b":0.92},
{"t":2500.86,"o":6.27,"m":5.30,"c":4.11,"r":3.20,"g":2.09,"b":1.09},
{"t":2500.89,"o":6.15,"m":5.10,"c":4.05,"r":2.98,"g":2.08,"b":1.10},
{"t":2500.925,"o":5.95,"m":5.01,"c":4.00,"r":2.92,"g":1.91,"b":0.93},
{"t":2500.96,"o":5.85,"m":4.82,"c":3.85,"r":3.04,"g":1.92,"b":0.94},
{"t":2500.995,"o":5.79,"m":4.63,"c":3.81,"r":2.96,"g":2.06,"b":1.07},
{"t":2501.03,"o":5.62,"m":4.55,"c":3.67,"r":2.73,"g":2.04,"b":1.08},
{"t":2501.075,"o":5.75,"m":4.80,"c":3.77,"r":2.76,"g":1.92,"b":0.93},
{"t":2501.12,"o":5.98,"m":4.95,"c":3.98,"r":2.96,"g":1.95,"b":0.95},
{"t":2501.17,"o":6.28,"m":5.11,"c":4.16,"r":3.16,"g":2.07,"b":1.08},
{"t":2501.22,"o":6.48,"m":5.37,"c":4.24,"r":3.19,"g":2.06,"b":1.07},
{"t":2501.245,"o":6.27,"m":5.29,"c":4.08,"r":3.18,"g":1.93,"b":0.93},
{"t":2501.27,"o":6.15,"m":5.12,"c":4.02,"r":3.02,"g":1.95,"b":0.95},
{"t":2501.295,"o":5.95,"m":5.03,"c":3.99,"r":2.86,"g":2.07,"b":1.07},
{"t":2501.32,"o":5.85,"m":4.85,"c":3.85,"r":2.85,"g":2.05,"b":1.06},
{"t":2501.345,"o":5.75,"m":4.70,"c":3.71,"r":2.84,"g":1.92,"b":0.94},
{"t":2501.37,"o":5.55,"m":4.65,"c":3.67,"r":2.66,"g":1.90,"b":0.94},
{"t":2501.405,"o":5.67,"m":4.83,"c":3.75,"r":2.75,"g":1.83,"b":1.05},
{"t":2501.44,"o":5.90,"m":4.90,"c":3.92,"r":3.00,"g":1.77,"b":1.05},
{"t":2501.475,"o":6.03,"m":5.11,"c":3.98,"r":3.20,"g":2.02,"b":0.95},
{"t":2501.51,"o":6.26,"m":5.23,"c":4.14,"r":3.24,"g":2.20,"b":0.96},
{"t":2501.545,"o":6.20,"m":5.09,"c":4.13,"r":3.03,"g":2.02,"b":1.04},
{"t":2501.58,"o":6.05,"m":5.05,"c":4.02,"r":2.98,"g":1.96,"b":1.04},
{"t":2501.625,"o":5.95,"m":5.03,"c":4.02,"r":3.11,"g":2.06,"b":0.96},
{"t":2501.67,"o":5.95,"m":4.90,"c":3.92,"r":3.05,"g":2.05,"b":0.97},
{"t":2501.715,"o":5.85,"m":4.88,"c":3.81,"r":2.91,"g":1.93,"b":1.04},
{"t":2501.76,"o":5.84,"m":4.76,"c":3.81,"r":2.88,"g":1.95,"b":1.03},
{"t":2501.80,"o":5.99,"m":4.83,"c":3.98,"r":2.90,"g":2.07,"b":0.96},
{"t":2501.84,"o":6.05,"m":5.00,"c":4.02,"r":3.06,"g":2.04,"b":0.98},
{"t":2501.875,"o":6.10,"m":5.18,"c":4.06,"r":3.18,"g":1.93,"b":1.05},
{"t":2501.91,"o":6.26,"m":5.26,"c":4.20,"r":3.17,"g":1.96,"b":1.04},
{"t":2501.945,"o":6.20,"m":5.10,"c":4.16,"r":3.01,"g":2.08,"b":0.95},
{"t":2501.98,"o":6.05,"m":5.05,"c":4.02,"r":2.98,"g":2.05,"b":0.97},
{"t":2502.02,"o":5.92,"m":5.03,"c":3.91,"r":3.09,"g":1.93,"b":1.05},
{"t":2502.06,"o":5.88,"m":4.90,"c":3.92,"r":3.02,"g":1.95,"b":1.03},
{"t":2502.10,"o":5.84,"m":4.78,"c":3.91,"r":2.86,"g":2.07,"b":0.96},
{"t":2502.14,"o":5.70,"m":4.76,"c":3.81,"r":2.88,"g":2.05,"b":0.98},
{"t":2502.18,"o":5.79,"m":4.93,"c":3.87,"r":3.05,"g":1.92,"b":1.05},
{"t":2502.22,"o":5.98,"m":5.00,"c":4.02,"r":3.04,"g":1.94,"b":1.02},
{"t":2502.26,"o":6.15,"m":5.05,"c":4.16,"r":3.02,"g":2.07,"b":0.95},
{"t":2502.30,"o":6.23,"m":5.20,"c":4.20,"r":3.17,"g":2.06,"b":0.97},
{"t":2502.33,"o":6.09,"m":5.16,"c":4.07,"r":3.17,"g":1.93,"b":1.05},
{"t":2502.36,"o":6.05,"m":5.02,"c":4.05,"r":3.00,"g":1.95,"b":1.04},
{"t":2502.385,"o":5.90,"m":5.00,"c":4.03,"r":2.89,"g":2.07,"b":0.95},
{"t":2502.41,"o":5.85,"m":4.88,"c":3.92,"r":2.95,"g":2.04,"b":0.98},
{"t":2502.44,"o":5.81,"m":4.75,"c":3.81,"r":2.99,"g":1.92,"b":1.05},
{"t":2502.47,"o":5.66,"m":4.72,"c":3.81,"r":2.84,"g":1.96,"b":1.02},
{"t":2502.52,"o":5.78,"m":4.92,"c":3.88,"r":2.86,"g":2.08,"b":0.95},
{"t":2502.57,"o":6.00,"m":5.02,"c":4.05,"r":3.05,"g":2.05,"b":0.97},
{"t":2502.62,"o":6.23,"m":5.12,"c":4.23,"r":3.23,"g":2.03,"b":1.06},
{"t":2502.67,"o":6.35,"m":5.33,"c":4.31,"r":3.24,"g":2.17,"b":1.04},
{"t":2502.705,"o":6.17,"m":5.24,"c":4.13,"r":3.02,"g":1.99,"b":0.95},
{"t":2502.74,"o":6.08,"m":5.05,"c":4.05,"r":2.98,"g":1.96,"b":0.98},
{"t":2502.78,"o":5.95,"m":5.00,"c":4.02,"r":3.04,"g":2.07,"b":1.05},
{"t":2502.82,"o":5.90,"m":4.85,"c":3.88,"r":2.92,"g":2.03,"b":1.03},
{"t":2502.86,"o":5.85,"m":4.70,"c":3.83,"r":2.90,"g":1.91,"b":0.95},
{"t":2502.90,"o":5.70,"m":4.65,"c":3.67,"r":2.70,"g":1.92,"b":0.96},
{"t":2502.94,"o":5.79,"m":4.87,"c":3.77,"r":2.77,"g":2.06,"b":1.05},
{"t":2502.98,"o":5.98,"m":4.98,"c":3.98,"r":3.02,"g":2.05,"b":1.02},
{"t":2503.02,"o":6.19,"m":5.07,"c":4.14,"r":3.19,"g":1.94,"b":0.94},
{"t":2503.06,"o":6.30,"m":5.26,"c":4.20,"r":3.17,"g":1.97,"b":0.97},
{"t":2503.095,"o":6.13,"m":5.20,"c":4.06,"r":3.00,"g":2.08,"b":1.06},
{"t":2503.13,"o":6.05,"m":5.05,"c":4.02,"r":2.98,"g":2.05,"b":1.03},
{"t":2503.165,"o":5.90,"m":5.02,"c":4.00,"r":3.06,"g":1.93,"b":0.95},
{"t":2503.20,"o":5.85,"m":4.88,"c":3.88,"r":2.96,"g":1.95,"b":0.98},
{"t":2503.235,"o":5.79,"m":4.72,"c":3.74,"r":2.81,"g":2.07,"b":1.05},
{"t":2503.27,"o":5.62,"m":4.65,"c":3.70,"r":2.84,"g":2.04,"b":1.02},
{"t":2503.32,"o":5.75,"m":4.88,"c":3.80,"r":3.03,"g":1.93,"b":0.95},
{"t":2503.37,"o":5.98,"m":5.00,"c":4.00,"r":3.04,"g":1.96,"b":0.97},
{"t":2503.42,"o":6.23,"m":5.12,"c":4.19,"r":3.03,"g":2.07,"b":1.05},
{"t":2503.47,"o":6.37,"m":5.33,"c":4.27,"r":3.19,"g":2.03,"b":1.03},
{"t":2503.50,"o":6.21,"m":5.32,"c":4.16,"r":3.24,"g":1.94,"b":0.97},
{"t":2503.53,"o":6.15,"m":5.20,"c":4.15,"r":3.10,"g":1.98,"b":1.00}
  ]
},
"columns": 2,
"spacing": {"row": 111, "column": 127},
"bounds": "flush",
"concat": [
  {
    "width": 406, "height": 287,
    "title": "WE Direction",
    "encoding": {
      "x": {"field": "t", "type": "quantitative", "scale": {"domain": [0, 3600], "nice": false, "zero": false}, "axis": {"values": [0, 1000, 2000, 3000], "title": "Time (s)", "labelExpr": "'' + datum.value"}},
      "y": {"field": "v", "type": "quantitative", "scale": {"domain": [-4, 4], "nice": false, "zero": false}, "axis": {"values": [-4, -2, 0, 2, 4], "title": "(m/s)", "labelExpr": "'' + datum.value"}}
    },
    "layer": [
      {"data": {"name": "core"}, "mark": {"type": "area", "color": "#000", "opacity": 1}, "encoding": {"y2": {"field": "v2"}}},
      {"data": {"name": "we"}, "mark": {"type": "line", "color": "#111", "strokeWidth": 0.9}},
      {"data": {"values": [{"t": 1650, "v": -0.02}]}, "mark": {"type": "point", "shape": "M0,-1C0.0552,-1,0.1,-0.5523,0.1,0C0.1,0.5523,0.0552,1,0,1C-0.0552,1,-0.1,0.5523,-0.1,0C-0.1,-0.5523,-0.0552,-1,0,-1Z", "size": 77841, "filled": false, "stroke": "#ff0000", "strokeWidth": 3.5, "opacity": 1}},
      {"data": {"values": [{"t": 1562, "v": -3.02, "t2": 963, "v2": -6.73}]}, "mark": {"type": "rule", "color": "#ff0000", "strokeWidth": 3}, "encoding": {"x2": {"field": "t2"}, "y2": {"field": "v2"}}},
      {"data": {"values": [{"t": 923, "v": -6.98}]}, "mark": {"type": "point", "shape": "M0,0L-0.35,-1L0.35,-1Z", "size": 1296, "filled": true, "color": "#ff0000", "opacity": 1, "angle": 27}},
      {"data": {"values": [{"t": 71, "v": 4.223, "txt": "x 10"}]}, "mark": {"type": "text", "align": "left", "baseline": "alphabetic", "font": "Liberation Sans", "fontSize": 19, "color": "#000"}, "encoding": {"text": {"field": "txt"}}},
      {"data": {"values": [{"t": 408, "v": 4.454, "txt": "-5"}]}, "mark": {"type": "text", "align": "left", "baseline": "alphabetic", "font": "Liberation Sans", "fontSize": 14, "color": "#000"}, "encoding": {"text": {"field": "txt"}}}
    ]
  },
  {
    "width": 398, "height": 287,
    "title": "WE Direction",
    "encoding": {
      "x": {"field": "t", "type": "quantitative", "scale": {"domain": [0, 3532], "nice": false, "zero": false}, "axis": {"values": [0, 1000, 2000, 3000], "title": "Time (s)", "labelExpr": "'' + datum.value"}},
      "y": {"field": "v", "type": "quantitative", "scale": {"domain": [-4, 4], "nice": false, "zero": false}, "axis": {"values": [-4, -2, 0, 2, 4], "title": "(m/s)", "labelExpr": "'' + datum.value"}}
    },
    "layer": [
      {"data": {"name": "core"}, "mark": {"type": "area", "color": "#000", "opacity": 1}, "encoding": {"y2": {"field": "v2"}}},
      {"data": {"name": "we"}, "mark": {"type": "line", "color": "#111", "strokeWidth": 0.9}},
      {"data": {"values": [{"t": 1652, "v": 3.5, "v2": -3.6}]}, "mark": {"type": "rule", "color": "#000", "strokeWidth": 2}, "encoding": {"y2": {"field": "v2"}}},
      {"data": {"values": [{"t": 2511, "v": 0.01}]}, "mark": {"type": "point", "shape": "M0,-1C0.1712,-1,0.31,-0.5523,0.31,0C0.31,0.5523,0.1712,1,0,1C-0.1712,1,-0.31,0.5523,-0.31,0C-0.31,-0.5523,-0.1712,-1,0,-1Z", "size": 4225, "filled": false, "stroke": "#ff0000", "strokeWidth": 3.5, "opacity": 1}},
      {"data": {"values": [{"t": 2502, "v": -0.88, "t2": 2265, "v2": -6.73}]}, "mark": {"type": "rule", "color": "#ff0000", "strokeWidth": 3}, "encoding": {"x2": {"field": "t2"}, "y2": {"field": "v2"}}},
      {"data": {"values": [{"t": 2254, "v": -7.01}]}, "mark": {"type": "point", "shape": "M0,0L-0.35,-1L0.35,-1Z", "size": 1296, "filled": true, "color": "#ff0000", "opacity": 1, "angle": 7}},
      {"data": {"values": [{"t": 71, "v": 4.223, "txt": "x 10"}]}, "mark": {"type": "text", "align": "left", "baseline": "alphabetic", "font": "Liberation Sans", "fontSize": 19, "color": "#000"}, "encoding": {"text": {"field": "txt"}}},
      {"data": {"values": [{"t": 408, "v": 4.454, "txt": "-5"}]}, "mark": {"type": "text", "align": "left", "baseline": "alphabetic", "font": "Liberation Sans", "fontSize": 14, "color": "#000"}, "encoding": {"text": {"field": "txt"}}}
    ]
  },
  {
    "width": 406, "height": 287,
    "encoding": {
      "x": {"field": "t", "type": "quantitative", "scale": {"domain": [1656.178, 1657.613], "nice": false, "zero": false}, "axis": {"values": [1656.5, 1657, 1657.5], "title": "Time (s)", "labelExpr": "'' + datum.value"}},
      "y": {"field": "v", "type": "quantitative", "scale": {"domain": [-2.42, 9.59], "nice": false, "zero": false}, "axis": {"values": [-2, 0, 2, 4, 6, 8], "title": "Level", "labelExpr": "'' + datum.value"}}
    },
    "layer": [
      {"data": {"name": "z1"}, "mark": {"type": "line", "strokeWidth": 1.1, "interpolate": "monotone"}, "encoding": {"color": {"field": "s", "type": "nominal", "scale": {"domain": ["b", "g", "r", "c", "m", "o"], "range": ["#0000ff", "#008000", "#ff0000", "#00bfbf", "#bf00bf", "#b05a14"]}, "legend": null}}},
      {"data": {"values": [{"t": 1656.2875, "v": -0.13, "t2": 1656.3653, "v2": 8.34}]}, "mark": {"type": "rule", "color": "#000", "strokeWidth": 4, "strokeDash": [9, 5]}, "encoding": {"x2": {"field": "t2"}, "y2": {"field": "v2"}}}
    ]
  },
  {
    "width": 398, "height": 287,
    "encoding": {
      "x": {"field": "t", "type": "quantitative", "scale": {"domain": [2497.517, 2503.525], "nice": false, "zero": false}, "axis": {"values": [2498, 2500, 2502], "title": "Time (s)", "labelExpr": "'' + datum.value"}},
      "y": {"field": "v", "type": "quantitative", "scale": {"domain": [0.68, 6.81], "nice": false, "zero": false}, "axis": {"values": [1, 2, 3, 4, 5, 6], "title": "Level", "labelExpr": "'' + datum.value"}}
    },
    "layer": [
      {"data": {"name": "z2"}, "transform": [{"fold": ["b", "g", "r", "c", "m", "o"], "as": ["s", "v"]}], "mark": {"type": "line", "strokeWidth": 1.1}, "encoding": {"color": {"field": "s", "type": "nominal", "scale": {"domain": ["b", "g", "r", "c", "m", "o"], "range": ["#0000ff", "#008000", "#ff0000", "#00bfbf", "#bf00bf", "#b05a14"]}, "legend": null}}},
      {"data": {"values": [{"t": 2499.725, "v": 0.89, "v2": 6.63}]}, "mark": {"type": "rule", "color": "#000", "strokeWidth": 4, "strokeDash": [9, 5]}, "encoding": {"y2": {"field": "v2"}}}
    ]
  }
]
}
